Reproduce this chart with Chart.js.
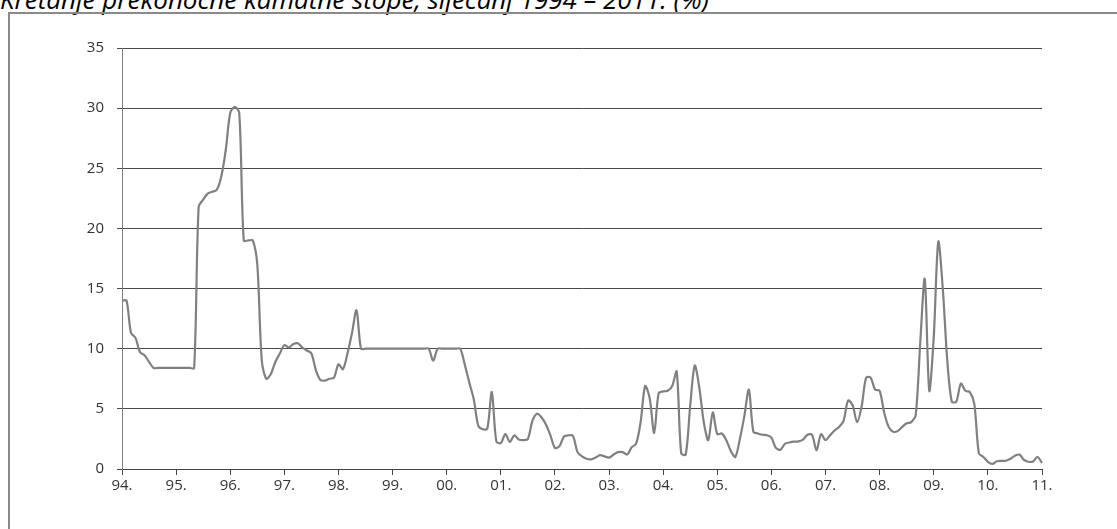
<!DOCTYPE html>
<html>
<head>
<meta charset="utf-8">
<script src="https://cdn.jsdelivr.net/npm/chart.js@4.4.0/dist/chart.umd.min.js"></script>
<style>
  html, body { margin: 0; padding: 0; background: #fff; overflow: hidden; }
  #wrap { position: relative; width: 1117px; height: 529px; }
  #title { position: absolute; left: 0; top: -14px; font: italic 26px "Open Sans", sans-serif; line-height: 26px; color: #000; white-space: nowrap; }
  #frame { position: absolute; left: 8px; top: 12px; width: 1200px; height: 600px; border: 2px solid #8a8a8a; box-sizing: border-box; }
  #chart { position: absolute; left: 0; top: 0; }
</style>
</head>
<body>
<div id="wrap">
  <div id="title">Kretanje prekonoćne kamatne stope, siječanj 1994 – 2011. (%)</div>
  <div id="frame"></div>
  <canvas id="chart" width="1117" height="529"></canvas>
</div>
<script>
// overnight rate, monthly, Jan 1994 - Jan 2011 (%)
const yearLabels = ['94.', '95.', '96.', '97.', '98.', '99.', '00.', '01.', '02.', '03.', '04.', '05.', '06.', '07.', '08.', '09.', '10.', '11.'];

const rates = [
  14.0, 14.0, 11.3, 10.9, 9.7, 9.45, 8.9, 8.4, 8.4, 8.4, 8.4, 8.4,          // 1994
  8.4, 8.4, 8.4, 8.4, 8.4, 21.8, 22.4, 22.9, 23.05, 23.2, 24.3, 26.5,       // 1995
  29.6, 30.1, 29.6, 19.0, 19.0, 19.0, 17.0, 9.0, 7.5, 7.9, 8.9, 9.6,        // 1996
  10.3, 10.1, 10.4, 10.45, 10.1, 9.85, 9.6, 8.2, 7.4, 7.35, 7.5, 7.6,       // 1997
  8.7, 8.3, 9.6, 11.3, 13.2, 10.0, 10.0, 10.0, 10.0, 10.0, 10.0, 10.0,      // 1998
  10.0, 10.0, 10.0, 10.0, 10.0, 10.0, 10.0, 10.0, 10.0, 9.0, 10.0, 10.0,    // 1999
  10.0, 10.0, 10.0, 10.0, 8.7, 7.2, 5.8, 3.6, 3.3, 3.35, 6.4, 2.3,          // 2000
  2.15, 2.9, 2.25, 2.8, 2.45, 2.4, 2.5, 4.0, 4.6, 4.3, 3.7, 2.8,            // 2001
  1.75, 1.9, 2.7, 2.8, 2.75, 1.4, 1.05, 0.85, 0.8, 0.95, 1.15, 1.05,        // 2002
  0.95, 1.2, 1.4, 1.4, 1.2, 1.8, 2.1, 3.9, 6.9, 5.9, 3.0, 6.3,              // 2003
  6.45, 6.5, 6.9, 8.1, 1.3, 1.2, 5.3, 8.6, 6.8, 3.9, 2.4, 4.7,              // 2004
  2.9, 2.95, 2.4, 1.5, 1.0, 2.5, 4.4, 6.6, 3.1, 2.95, 2.85, 2.8,            // 2005
  2.6, 1.75, 1.6, 2.1, 2.2, 2.27, 2.3, 2.45, 2.85, 2.85, 1.55, 2.9,         // 2006
  2.4, 2.8, 3.2, 3.5, 4.0, 5.7, 5.3, 3.9, 5.2, 7.6, 7.6, 6.6,               // 2007
  6.5, 4.7, 3.5, 3.1, 3.15, 3.5, 3.8, 3.9, 4.5, 10.5, 15.8, 6.5,            // 2008
  11.0, 18.9, 15.0, 9.0, 5.6, 5.6, 7.1, 6.5, 6.4, 5.4, 1.3, 1.0,            // 2009
  0.6, 0.42, 0.65, 0.68, 0.69, 0.85, 1.1, 1.2, 0.75, 0.6, 0.62, 1.0,        // 2010
  0.5                                                                        // Jan 2011
];

// one category per month
const months = [];
yearLabels.forEach((y, i) => {
  const n = i < yearLabels.length - 1 ? 12 : 1;
  for (let k = 1; k <= n; k++) months.push(y + String(k).padStart(2, '0'));
});

const axisFont = { family: '"Open Sans", sans-serif', size: 15 };

new Chart(document.getElementById('chart'), {
  type: 'line',
  data: {
    labels: months,
    datasets: [{
      data: rates,
      borderColor: '#808080',
      borderWidth: 2.2,
      pointRadius: 0,
      tension: 0.3,
      fill: false
    }]
  },
  options: {
    responsive: false,
    animation: false,
    layout: { padding: { left: 0, right: 75, top: 48, bottom: 0 } },
    plugins: { legend: { display: false }, tooltip: { enabled: false } },
    scales: {
      x: {
        offset: false,
        grid: {
          drawOnChartArea: false,
          tickLength: 6,
          tickColor: c => (c.index % 12 === 0 ? '#444' : 'rgba(0,0,0,0)')
        },
        border: { color: '#444', width: 1 },
        ticks: {
          autoSkip: false, maxRotation: 0, minRotation: 0, padding: 2,
          color: '#333', font: axisFont,
          callback: (v, i) => (i % 12 === 0 ? yearLabels[i / 12] : '')
        },
        afterFit: s => { s.height = 60; }
      },
      y: {
        min: 0, max: 35,
        grid: { color: '#4a4a4a', tickLength: 5 },
        border: { color: '#808080', width: 1 },
        ticks: { stepSize: 5, padding: 13, color: '#333', font: axisFont },
        afterFit: s => { s.width = 122; }
      }
    }
  }
});
</script>
</body>
</html>
